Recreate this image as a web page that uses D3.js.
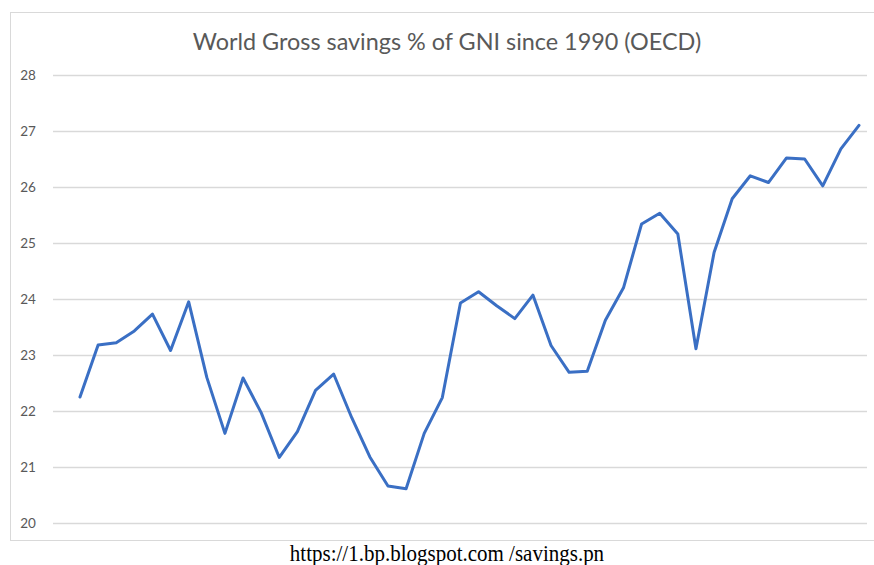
<!DOCTYPE html>
<html>
<head>
<meta charset="utf-8">
<script src="https://cdn.jsdelivr.net/npm/d3@7"></script>
<style>
  body { margin: 0; background: #fff; }
  svg { display: block; }
</style>
</head>
<body>
<div id="chart"></div>
<script>
// chart values
var title = "World Gross savings % of GNI since 1990 (OECD)";
var source = "https://1.bp.blogspot.com /savings.pn";

var years = [];
for (var i = 0; i < 44; i++) years.push(String(1990 + i));

var savings = [
  22.25, 23.18, 23.22, 23.43, 23.73, 23.08, 23.95, 22.60, 21.60, 22.59,
  21.97, 21.17, 21.63, 22.37, 22.66, 21.88, 21.18, 20.66, 20.61, 21.60,
  22.24, 23.93, 24.13, 23.88, 23.65, 24.07, 23.17, 22.69, 22.71, 23.62,
  24.20, 25.34, 25.53, 25.16, 23.11, 24.83, 25.79, 26.20, 26.08, 26.52,
  26.50, 26.02, 26.68, 27.10
];

var yTicks = [20, 21, 22, 23, 24, 25, 26, 27, 28];

var svgWidth = 874;
var svgHeight = 565;

var svg = d3.select("#chart")
  .append("svg")
  .attr("width", svgWidth)
  .attr("height", svgHeight);

// chart frame
svg.append("rect")
  .attr("x", 10.5)
  .attr("y", 12.5)
  .attr("width", 870)
  .attr("height", 528)
  .attr("fill", "#fff")
  .attr("stroke", "#d9d9d9")
  .attr("stroke-width", 1);

// scales
var xScale = d3.scalePoint()
  .domain(years)
  .range([80, 859]);

var yScale = d3.scaleLinear()
  .domain([20, 28])
  .range([523, 75]);

// gridlines
var leftAxis = d3.axisLeft(yScale)
  .tickValues(yTicks)
  .tickSize(-814)
  .tickPadding(14)
  .tickFormat(d3.format("d"));

var yAxis = svg.append("g")
  .attr("transform", "translate(53, 0)")
  .call(leftAxis);

yAxis.select(".domain").remove();
yAxis.selectAll(".tick line")
  .attr("stroke", "#d9d9d9")
  .attr("stroke-width", 1.3);
yAxis.selectAll(".tick text")
  .attr("fill", "#595959")
  .attr("font-family", "Lato, sans-serif")
  .attr("font-size", "13.5px")
  .attr("text-anchor", "middle")
  .attr("x", -25);

// line
var line = d3.line()
  .x(function(d, i) { return xScale(years[i]); })
  .y(function(d) { return yScale(d); });

svg.append("path")
  .datum(savings)
  .attr("d", line)
  .attr("fill", "none")
  .attr("stroke", "#3a6fc4")
  .attr("stroke-width", 3)
  .attr("stroke-linejoin", "round")
  .attr("stroke-linecap", "round");

// title
svg.append("text")
  .attr("x", 447)
  .attr("y", 50)
  .attr("text-anchor", "middle")
  .attr("fill", "#595959")
  .attr("font-family", "Lato, sans-serif")
  .attr("font-size", "23.4px")
  .text(title);

// source line under the frame
svg.append("text")
  .attr("x", 447)
  .attr("y", 561)
  .attr("text-anchor", "middle")
  .attr("fill", "#000")
  .attr("font-family", "'Liberation Serif', serif")
  .attr("font-size", "21px")
  .attr("transform", "translate(447,561) scale(1,1.08) translate(-447,-561)")
  .text(source);
</script>
</body>
</html>
